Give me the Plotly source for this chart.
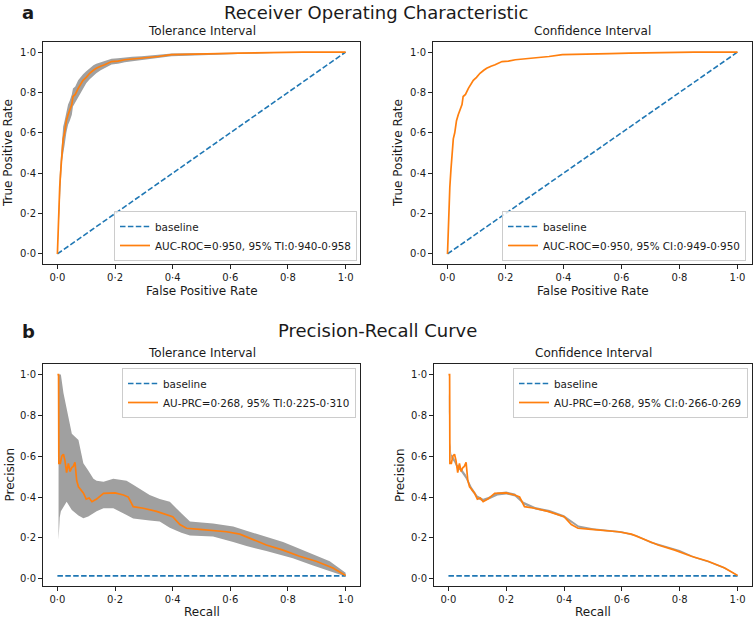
import plotly.graph_objects as go

# ---------------- data ----------------
tick_vals = [0.0, 0.2, 0.4, 0.6, 0.8, 1.0]
tick_text = ["0·0", "0·2", "0·4", "0·6", "0·8", "1·0"]

baseline_roc_x = [0.0, 1.0]
baseline_roc_y = [0.0, 1.0]
baseline_pr_x = [0.0, 1.0]
baseline_pr_y = [0.0135, 0.0135]

roc_fpr = [0, 0.004, 0.008, 0.012, 0.016, 0.02, 0.025, 0.031, 0.037, 0.043,
           0.05, 0.054, 0.062, 0.072, 0.08, 0.089, 0.1, 0.112, 0.125, 0.135,
           0.15, 0.164, 0.188, 0.21, 0.234, 0.26, 0.292, 0.32, 0.35, 0.396,
           0.45, 0.5, 0.56, 0.627, 0.7, 0.766, 0.85, 1.0]
roc_tpr = [0, 0.2, 0.33, 0.42, 0.53, 0.57, 0.6, 0.66, 0.69, 0.71,
           0.74, 0.78, 0.79, 0.82, 0.84, 0.86, 0.875, 0.895, 0.91, 0.92,
           0.93, 0.937, 0.953, 0.955, 0.962, 0.965, 0.97, 0.975, 0.978, 0.987,
           0.988, 0.99, 0.992, 0.995, 0.997, 1.0, 1.0, 1.0]
roc_ti_lo = [0, 0.15, 0.27, 0.36, 0.46, 0.51, 0.54, 0.6, 0.64, 0.66,
             0.69, 0.73, 0.75, 0.78, 0.8, 0.82, 0.845, 0.865, 0.885, 0.895,
             0.91, 0.92, 0.938, 0.942, 0.95, 0.954, 0.96, 0.966, 0.97, 0.98,
             0.982, 0.985, 0.987, 0.99, 0.993, 0.997, 1.0, 1.0]
roc_ti_hi = [0, 0.26, 0.39, 0.48, 0.59, 0.63, 0.66, 0.71, 0.74, 0.76,
             0.79, 0.82, 0.83, 0.86, 0.875, 0.89, 0.905, 0.92, 0.935, 0.942,
             0.95, 0.955, 0.967, 0.97, 0.975, 0.977, 0.98, 0.985, 0.987, 0.993,
             0.994, 0.996, 0.997, 0.998, 0.999, 1.0, 1.0, 1.0]

pr_recall = [0, 0.004, 0.005, 0.01, 0.015, 0.021, 0.026, 0.032, 0.038, 0.044,
             0.05, 0.055, 0.061, 0.064, 0.067, 0.073, 0.079, 0.085, 0.09, 0.1,
             0.11, 0.12, 0.136, 0.16, 0.2, 0.229, 0.246, 0.263, 0.298, 0.344,
             0.367, 0.4, 0.425, 0.448, 0.494, 0.54, 0.587, 0.633, 0.679, 0.725,
             0.783, 0.84, 0.898, 0.956, 1.0]
pr_precision = [1.0, 1.0, 0.565, 0.565, 0.6, 0.61, 0.58, 0.52, 0.565, 0.525,
                0.545, 0.55, 0.57, 0.5, 0.48, 0.45, 0.44, 0.43, 0.42, 0.39,
                0.395, 0.377, 0.39, 0.418, 0.42, 0.41, 0.4, 0.353, 0.345, 0.33,
                0.32, 0.304, 0.265, 0.247, 0.242, 0.237, 0.23, 0.218, 0.19, 0.165,
                0.14, 0.11, 0.085, 0.052, 0.016]

pr_ti_recall = [0.004, 0.008, 0.012, 0.021, 0.032, 0.05, 0.073, 0.09, 0.107, 0.125,
                0.136, 0.16, 0.194, 0.24, 0.263, 0.32, 0.355, 0.39, 0.43, 0.46,
                0.54, 0.61, 0.656, 0.725, 0.783, 0.817, 0.887, 0.945, 1.0]
pr_ti_hi = [1.0, 1.0, 1.0, 0.91, 0.84, 0.71, 0.68, 0.565, 0.53, 0.49,
            0.48, 0.475, 0.49, 0.48, 0.46, 0.41, 0.39, 0.377, 0.32, 0.28,
            0.27, 0.255, 0.235, 0.205, 0.18, 0.16, 0.12, 0.085, 0.029]
pr_ti_lo = [0.19, 0.3, 0.33, 0.35, 0.377, 0.337, 0.31, 0.296, 0.305, 0.32,
            0.33, 0.345, 0.345, 0.312, 0.295, 0.285, 0.28, 0.25, 0.225, 0.212,
            0.206, 0.18, 0.16, 0.135, 0.112, 0.1, 0.065, 0.035, 0.01]

pr_ci_recall = [0.0, 0.005, 0.01, 0.02, 0.03, 0.04, 0.05, 0.06, 0.08, 0.1,
                0.12, 0.14, 0.17, 0.2, 0.23, 0.26, 0.3, 0.35, 0.4, 0.45,
                0.5, 0.55, 0.6, 0.65, 0.7, 0.75, 0.8, 0.85, 0.9, 0.95, 1.0]
pr_ci_lo = [0.89, 0.65, 0.59, 0.57, 0.54, 0.53, 0.51, 0.49, 0.43, 0.392,
            0.378, 0.388, 0.408, 0.413, 0.403, 0.363, 0.339, 0.324, 0.299, 0.25,
            0.239, 0.232, 0.224, 0.206, 0.174, 0.153, 0.133, 0.101, 0.079, 0.051, 0.014]
pr_ci_hi = [0.91, 0.67, 0.61, 0.59, 0.56, 0.55, 0.53, 0.51, 0.45, 0.408,
            0.392, 0.402, 0.422, 0.427, 0.417, 0.377, 0.351, 0.336, 0.311, 0.26,
            0.247, 0.24, 0.232, 0.214, 0.182, 0.161, 0.141, 0.109, 0.087, 0.059, 0.018]

label_roc_ti = "AUC-ROC=0·950, 95% TI:0·940-0·958"
label_roc_ci = "AUC-ROC=0·950, 95% CI:0·949-0·950"
label_pr_ti = "AU-PRC=0·268, 95% TI:0·225-0·310"
label_pr_ci = "AU-PRC=0·268, 95% CI:0·266-0·269"

# ---------------- styles ----------------
W, H = 755, 621
FONT = "DejaVu Sans"
TXT = "#1a1a1a"
BLUE = "#1f77b4"
ORANGE = "#ff7f0e"
BAND = "rgb(160,160,160)"


def px_x(p):
    return p / W


def px_y(p):
    return (H - p) / H


fig = go.Figure()

panels = [
    # (axis suffix, x-range pixels, y-range pixels)
    ("", (43, 360), (42, 264)),
    ("2", (433, 752), (42, 264)),
    ("3", (43, 360), (364, 586)),
    ("4", (434, 752), (364, 586)),
]


def add_band(ax, x, lo, hi):
    fig.add_trace(go.Scatter(x=x, y=lo, mode="lines", line=dict(width=0, color=BAND),
                             showlegend=False, hoverinfo="skip",
                             xaxis="x" + ax, yaxis="y" + ax))
    fig.add_trace(go.Scatter(x=x, y=hi, mode="lines", line=dict(width=0, color=BAND),
                             fill="tonexty", fillcolor=BAND, showlegend=False,
                             hoverinfo="skip", xaxis="x" + ax, yaxis="y" + ax))


def add_lines(ax, leg, bx, by, cx, cy, label):
    fig.add_trace(go.Scatter(x=bx, y=by, mode="lines", name="baseline",
                             line=dict(color=BLUE, width=1.6, dash="5.5px,2.4px"),
                             legend=leg, xaxis="x" + ax, yaxis="y" + ax))
    fig.add_trace(go.Scatter(x=cx, y=cy, mode="lines", name=label,
                             line=dict(color=ORANGE, width=1.7),
                             legend=leg, xaxis="x" + ax, yaxis="y" + ax))


# Panel a - TI
add_band("", roc_fpr, roc_ti_lo, roc_ti_hi)
add_lines("", "legend", baseline_roc_x, baseline_roc_y, roc_fpr, roc_tpr, label_roc_ti)
# Panel a - CI
add_lines("2", "legend2", baseline_roc_x, baseline_roc_y, roc_fpr, roc_tpr, label_roc_ci)
# Panel b - TI
add_band("3", pr_ti_recall, pr_ti_lo, pr_ti_hi)
add_lines("3", "legend3", baseline_pr_x, baseline_pr_y, pr_recall, pr_precision, label_pr_ti)
# Panel b - CI
add_band("4", pr_ci_recall, pr_ci_lo, pr_ci_hi)
add_lines("4", "legend4", baseline_pr_x, baseline_pr_y, pr_recall, pr_precision, label_pr_ci)

axis_common = dict(
    showline=True, mirror=True, linecolor="#222", linewidth=1,
    ticks="outside", ticklen=4, tickwidth=1, tickcolor="#222",
    showgrid=False, zeroline=False,
    tickvals=tick_vals, ticktext=tick_text,
    tickfont=dict(family=FONT, size=10, color=TXT),
)

layout_axes = {}
for i, (ax, (x0, x1), (y0, y1)) in enumerate(panels):
    yr = [-0.05, 1.05] if i < 2 else [-0.036, 1.052]
    layout_axes["xaxis" + ax] = dict(axis_common, domain=[px_x(x0), px_x(x1)],
                                     range=[-0.05, 1.05], anchor="y" + ax)
    layout_axes["yaxis" + ax] = dict(axis_common, domain=[px_y(y1), px_y(y0)],
                                     range=yr, anchor="x" + ax)

legend_common = dict(
    bgcolor="rgba(255,255,255,0.8)", bordercolor="#cccccc", borderwidth=1,
    font=dict(family=FONT, size=10.4, color=TXT),
    xanchor="right", tracegroupgap=0, itemwidth=30, traceorder="normal",
)

fig.update_layout(
    width=W, height=H,
    margin=dict(l=0, r=0, t=0, b=0, pad=0, autoexpand=False),
    paper_bgcolor="white", plot_bgcolor="white",
    font=dict(family=FONT, color=TXT),
    legend=dict(legend_common, x=px_x(357), y=px_y(261), yanchor="bottom"),
    legend2=dict(legend_common, x=px_x(746), y=px_y(261), yanchor="bottom"),
    legend3=dict(legend_common, x=px_x(356), y=px_y(368), yanchor="top"),
    legend4=dict(legend_common, x=px_x(748), y=px_y(368), yanchor="top"),
    **layout_axes,
)

annotations = []


def txt(text, x, y, size, bold=False, angle=0, yanchor="middle"):
    annotations.append(dict(
        text=("<b>%s</b>" % text) if bold else text,
        x=px_x(x), y=px_y(y), xref="paper", yref="paper",
        xanchor="center", yanchor=yanchor, showarrow=False, textangle=angle,
        font=dict(family=FONT, size=size, color=TXT),
    ))


# section titles and panel letters
txt("a", 28, 0, 18, bold=True, yanchor="top")
txt("Receiver Operating Characteristic", 376, 0, 18, yanchor="top")
txt("b", 28, 332, 18, bold=True)
txt("Precision-Recall Curve", 377, 331, 18)
# subplot titles
txt("Tolerance Interval", 201.5, 31, 12)
txt("Confidence Interval", 592.5, 31, 12)
txt("Tolerance Interval", 201.5, 352.5, 12)
txt("Confidence Interval", 593, 352.5, 12)
# axis titles
txt("False Positive Rate", 201.5, 290.5, 12)
txt("False Positive Rate", 592.5, 290.5, 12)
txt("Recall", 201.5, 611.5, 12)
txt("Recall", 593, 611.5, 12)
txt("True Positive Rate", 8, 153, 12, angle=-90)
txt("True Positive Rate", 398, 153, 12, angle=-90)
txt("Precision", 9.5, 475, 12, angle=-90)
txt("Precision", 400, 475, 12, angle=-90)

fig.update_layout(annotations=annotations)

# remove the browser's default 8px page margin so the figure sits at (0, 0)
fig.write_html(
    "out.html",
    config={"displayModeBar": False},
    post_script="document.body.style.margin='0px';document.body.style.overflow='hidden';",
)
